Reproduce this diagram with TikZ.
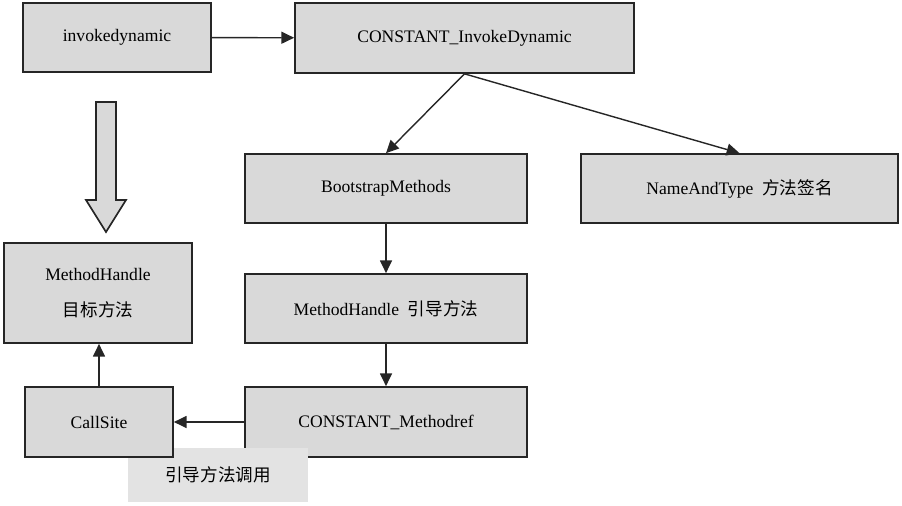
\documentclass[tikz,border=0pt]{standalone}
\usepackage{fontspec}
\setmainfont{Liberation Serif}
\newfontfamily\cjk{Noto Sans CJK SC}
\usetikzlibrary{arrows.meta,positioning,calc}

\tikzset{
    box/.style={draw=black!85, line width=1.2pt, fill=black!15, inner sep=0pt, align=center},
    link/.style={line width=1pt, draw=black!85, -{Triangle[length=0.32cm,width=0.3cm]}}
}

\begin{document}
\begin{tikzpicture}[x=0.025cm, y=-0.025cm, font=\fontsize{12.5}{15}\selectfont]
            \useasboundingbox (0, 0) rectangle (902, 506);

            \node (inv)[box, minimum width=188*0.025cm, minimum height=69*0.025cm] at (117, 37.5) {invokedynamic};
            \node (cid)[box, minimum width=339*0.025cm, minimum height=70*0.025cm] at (464.5, 38) {CONSTANT\_InvokeDynamic};
            \node (boot)[box, minimum width=282*0.025cm, minimum height=69*0.025cm] at (386, 188.5) {BootstrapMethods};
            \node (nat)[box, minimum width=317*0.025cm, minimum height=69*0.025cm] at (739.5, 188.5) {NameAndType~~{\cjk 方法签名}};
            \node (mhb)[box, minimum width=282*0.025cm, minimum height=69*0.025cm] at (386, 308.5) {MethodHandle~~{\cjk 引导方法}};
            \node (mref)[box, minimum width=282*0.025cm, minimum height=70*0.025cm] at (386, 422) {CONSTANT\_Methodref};
            \node (mht)[box, minimum width=188*0.025cm, minimum height=100*0.025cm] at (98, 293) {MethodHandle \\[11pt] {\cjk 目标方法}};
            \node (lbl)[fill=black!11, minimum width=180*0.025cm, minimum height=54*0.025cm, inner sep=0pt] at (218, 475) {\cjk 引导方法调用};
            \node (cs)[box, minimum width=148*0.025cm, minimum height=70*0.025cm] at (99, 422) {CallSite};

            % hollow arrow from invokedynamic down to the target handle
            \coordinate (hs) at (106, 102);
            \coordinate (ht) at (106, 232);
            \draw[line width=1.2pt, draw=black!85, fill=black!15] (hs) ++(-10, 0) -- ++(0, 98) -- ++(-10, 0) -- (ht)
                -- ++(20, -32) -- ++(-10, 0) -- ++(0, -98) -- cycle;

            \draw[link] (inv) -- (cid);
            \draw[link] (cid.south) -- (boot.north);
            \draw[link] (cid.south) -- (nat.north);
            \draw[link] (boot) -- (mhb);
            \draw[link] (mhb) -- (mref);
            \draw[link] (mref) -- (cs);
            \draw[link] (cs) -- (cs |- mht.south);
    \end{tikzpicture}
\end{document}
